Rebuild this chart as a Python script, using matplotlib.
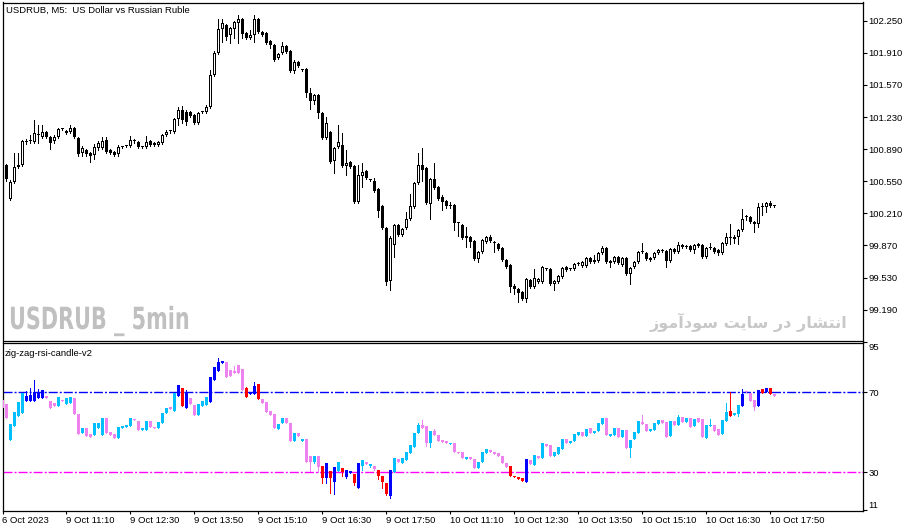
import matplotlib
matplotlib.use('Agg')
import matplotlib.pyplot as plt
import matplotlib.patheffects as pe
from matplotlib.transforms import Affine2D
import numpy as np

plt.rcParams['font.family'] = ['Liberation Sans', 'DejaVu Sans']

W, H = 915, 532

# ---- USDRUB M5 candles ----
opens = [
    100.723, 100.723, 100.363, 100.543, 100.701, 100.723, 100.961, 100.972, 100.966, 101.045,
    101.019, 101.072, 101.019, 100.977, 101.019, 101.104, 101.083, 101.072, 101.114, 101.009,
    100.850, 100.881, 100.850, 100.829, 100.903, 100.903, 100.987, 100.881, 100.860, 100.839,
    100.908, 100.919, 100.924, 100.977, 100.966, 100.913, 100.913, 100.977, 100.956, 100.934,
    100.956, 101.040, 101.078, 101.072, 101.210, 101.305, 101.284, 101.284, 101.252, 101.167,
    101.279, 101.284, 101.337, 101.676, 101.909, 102.163, 102.205, 102.099, 102.163, 102.226,
    102.269, 102.121, 102.068, 102.099, 102.269, 102.131, 102.121, 102.036, 101.993, 101.856,
    101.909, 101.983, 101.930, 101.718, 101.813, 101.734, 101.739, 101.485, 101.400, 101.464,
    101.273, 101.009, 101.072, 100.765, 100.913, 100.934, 100.712, 100.754, 100.712, 100.331,
    100.606, 100.659, 100.569, 100.553, 100.469, 100.288, 100.055, 99.494, 99.875, 100.087,
    99.981, 100.055, 100.151, 100.278, 100.532, 100.723, 100.691, 100.310, 100.574, 100.490,
    100.384, 100.341, 100.293, 100.299, 100.113, 100.087, 99.950, 99.960, 99.918, 99.727,
    99.801, 99.907, 99.960, 99.907, 99.886, 99.844, 99.717, 99.664, 99.441, 99.409,
    99.378, 99.304, 99.505, 99.431, 99.484, 99.484, 99.616, 99.621, 99.462, 99.484,
    99.537, 99.642, 99.616, 99.621, 99.685, 99.653, 99.653, 99.738, 99.695, 99.706,
    99.791, 99.844, 99.706, 99.695, 99.748, 99.664, 99.738, 99.568, 99.642, 99.695,
    99.796, 99.791, 99.738, 99.738, 99.791, 99.823, 99.812, 99.706, 99.833, 99.801,
    99.875, 99.854, 99.865, 99.823, 99.865, 99.875, 99.748, 99.839, 99.844, 99.823,
    99.791, 99.886, 99.960, 99.960, 99.960, 100.034, 100.167, 100.172, 100.119, 100.098,
    100.278, 100.278, 100.320, 100.293,
]
closes = [
    100.564, 100.574, 100.543, 100.701, 100.723, 100.977, 100.972, 100.977, 101.062, 101.040,
    101.072, 101.019, 100.956, 101.019, 101.104, 101.099, 101.062, 101.114, 101.019, 100.839,
    100.903, 100.839, 100.818, 100.913, 100.956, 100.977, 100.860, 100.850, 100.829, 100.913,
    100.913, 100.924, 100.987, 100.972, 100.913, 100.908, 100.966, 100.934, 100.934, 100.966,
    101.040, 101.072, 101.083, 101.210, 101.305, 101.199, 101.178, 101.242, 101.167, 101.273,
    101.284, 101.337, 101.676, 101.909, 102.163, 102.226, 102.078, 102.173, 102.237, 102.269,
    102.110, 102.068, 102.099, 102.269, 102.131, 102.099, 102.015, 101.993, 101.835, 101.898,
    101.983, 101.919, 101.718, 101.813, 101.771, 101.724, 101.485, 101.400, 101.464, 101.273,
    101.009, 101.167, 100.754, 100.903, 100.966, 100.712, 100.744, 100.701, 100.331, 100.617,
    100.649, 100.585, 100.564, 100.447, 100.236, 100.055, 99.484, 99.950, 100.087, 99.981,
    100.045, 100.151, 100.288, 100.532, 100.723, 100.670, 100.320, 100.574, 100.479, 100.363,
    100.331, 100.288, 100.288, 100.108, 100.103, 99.950, 99.971, 99.907, 99.727, 99.801,
    99.928, 99.960, 99.918, 99.897, 99.833, 99.717, 99.642, 99.431, 99.409, 99.367,
    99.304, 99.515, 99.431, 99.526, 99.515, 99.642, 99.621, 99.462, 99.494, 99.547,
    99.632, 99.611, 99.621, 99.674, 99.674, 99.695, 99.738, 99.695, 99.717, 99.791,
    99.844, 99.695, 99.685, 99.748, 99.685, 99.738, 99.568, 99.632, 99.695, 99.801,
    99.801, 99.727, 99.717, 99.791, 99.823, 99.812, 99.706, 99.833, 99.801, 99.875,
    99.854, 99.865, 99.823, 99.875, 99.886, 99.748, 99.844, 99.844, 99.801, 99.791,
    99.897, 99.960, 99.950, 99.939, 100.034, 100.151, 100.172, 100.119, 100.098, 100.278,
    100.288, 100.320, 100.288, 100.288,
]
highs = [
    100.754, 100.733, 100.564, 100.850, 100.850, 100.987, 100.998, 101.040, 101.199, 101.146,
    101.146, 101.083, 101.030, 101.040, 101.114, 101.114, 101.093, 101.146, 101.125, 101.019,
    100.924, 100.892, 100.860, 100.945, 100.977, 101.019, 101.019, 100.892, 100.870, 100.934,
    100.924, 100.934, 101.030, 100.998, 100.977, 100.924, 101.030, 100.987, 100.966, 100.977,
    101.051, 101.093, 101.093, 101.220, 101.337, 101.347, 101.305, 101.295, 101.263, 101.284,
    101.295, 101.358, 101.729, 101.930, 102.269, 102.269, 102.215, 102.184, 102.247, 102.311,
    102.279, 102.131, 102.152, 102.311, 102.279, 102.142, 102.131, 102.046, 102.004, 101.909,
    102.025, 101.993, 101.940, 101.835, 101.824, 101.739, 101.750, 101.538, 101.474, 101.474,
    101.284, 101.231, 101.083, 100.913, 101.146, 101.062, 100.881, 100.765, 100.723, 100.723,
    100.744, 100.670, 100.574, 100.585, 100.479, 100.299, 100.066, 99.971, 100.098, 100.098,
    100.055, 100.225, 100.416, 100.543, 100.850, 100.903, 100.701, 100.585, 100.744, 100.500,
    100.405, 100.352, 100.331, 100.310, 100.119, 100.098, 100.066, 99.971, 99.928, 99.812,
    99.939, 99.971, 99.981, 99.918, 99.897, 99.854, 99.727, 99.674, 99.462, 99.420,
    99.388, 99.526, 99.515, 99.621, 99.526, 99.653, 99.632, 99.632, 99.505, 99.558,
    99.642, 99.653, 99.632, 99.685, 99.695, 99.706, 99.748, 99.748, 99.770, 99.801,
    99.865, 99.854, 99.717, 99.759, 99.759, 99.748, 99.748, 99.642, 99.706, 99.812,
    99.897, 99.801, 99.748, 99.801, 99.833, 99.833, 99.823, 99.844, 99.844, 99.907,
    99.886, 99.875, 99.875, 99.886, 99.897, 99.886, 99.854, 99.897, 99.854, 99.833,
    99.907, 100.003, 100.098, 99.981, 100.045, 100.257, 100.193, 100.182, 100.130, 100.320,
    100.320, 100.331, 100.341, 100.299,
]
lows = [
    100.553, 100.553, 100.352, 100.532, 100.691, 100.712, 100.945, 100.956, 100.956, 100.956,
    101.009, 101.009, 100.892, 100.956, 101.009, 101.093, 101.051, 101.062, 101.009, 100.818,
    100.818, 100.818, 100.754, 100.786, 100.881, 100.892, 100.850, 100.839, 100.818, 100.818,
    100.903, 100.913, 100.913, 100.956, 100.903, 100.903, 100.903, 100.924, 100.924, 100.924,
    100.945, 101.030, 101.062, 101.062, 101.146, 101.167, 101.146, 101.231, 101.157, 101.157,
    101.273, 101.273, 101.326, 101.665, 101.898, 102.025, 102.046, 102.015, 102.068, 102.015,
    102.068, 102.057, 102.057, 102.025, 102.121, 102.089, 102.004, 101.962, 101.824, 101.845,
    101.898, 101.909, 101.708, 101.697, 101.760, 101.718, 101.443, 101.316, 101.369, 101.220,
    100.998, 100.998, 100.744, 100.638, 100.903, 100.701, 100.617, 100.691, 100.320, 100.320,
    100.490, 100.574, 100.553, 100.437, 100.172, 100.045, 99.452, 99.399, 99.748, 99.971,
    99.971, 100.045, 100.140, 100.267, 100.522, 100.553, 100.310, 100.151, 100.469, 100.352,
    100.246, 100.267, 100.267, 100.034, 99.971, 99.939, 99.854, 99.854, 99.717, 99.695,
    99.791, 99.897, 99.907, 99.801, 99.823, 99.706, 99.632, 99.378, 99.357, 99.272,
    99.293, 99.272, 99.420, 99.420, 99.473, 99.473, 99.611, 99.452, 99.399, 99.473,
    99.526, 99.600, 99.605, 99.611, 99.664, 99.642, 99.642, 99.685, 99.685, 99.695,
    99.780, 99.685, 99.642, 99.685, 99.674, 99.653, 99.558, 99.462, 99.632, 99.685,
    99.791, 99.717, 99.706, 99.727, 99.780, 99.801, 99.642, 99.695, 99.791, 99.791,
    99.844, 99.844, 99.812, 99.791, 99.854, 99.738, 99.738, 99.833, 99.791, 99.770,
    99.780, 99.875, 99.886, 99.897, 99.886, 100.024, 100.140, 100.108, 100.013, 100.066,
    100.193, 100.225, 100.278, 100.278,
]

# ---- zig-zag-rsi-candle-v2 (RSI candles) ----
rsi_open = [
    66, 64, 46, 53, 58, 59.5, 65.8, 65.8, 65.8, 67,
    67, 68.2, 65.8, 64.8, 63.3, 66.2, 64.2, 64.8, 67, 59.2,
    49.5, 52, 49, 48.7, 52, 48.7, 57, 50.3, 49.2, 47.3,
    52.3, 52.8, 53.2, 56.7, 55.7, 51.2, 51.2, 55.7, 52.8, 52,
    54.8, 59.5, 62.5, 60.8, 68.2, 72, 62.3, 67, 63.7, 58.7,
    63.2, 63.7, 65.3, 76.2, 80.8, 84.5, 85.3, 81.2, 80.8, 83.7,
    81.5, 72, 69, 69.2, 74.2, 66.5, 65.3, 60.8, 59.2, 51.5,
    54.5, 57.3, 54.8, 45.8, 49.5, 45.8, 46.7, 38.2, 35.3, 38.2,
    33.2, 27, 30.7, 25, 30.7, 32.2, 27.8, 29.5, 29.2, 22.3,
    33.2, 35.2, 33.2, 33.3, 31.2, 28.3, 24.8, 18.2, 30.3, 36.7,
    34.8, 36.2, 39.5, 42.8, 49.5, 53.7, 53.2, 44.5, 50.8, 48.7,
    46.2, 45.5, 44.3, 44.7, 40.3, 40, 36.8, 37.8, 36.5, 32.2,
    35.2, 39.5, 41.2, 40.3, 39.5, 38.2, 34.8, 33.2, 28.2, 27.7,
    27.2, 25.3, 36.2, 33.7, 38.2, 37.3, 44.2, 43.5, 38.2, 39.3,
    41.8, 46.7, 44.7, 45.7, 48.7, 50, 48.2, 52, 49.8, 50.8,
    54.2, 57, 48.3, 48.7, 52, 47.8, 51.2, 42, 46.7, 49.5,
    55.3, 54.2, 50.7, 51.2, 54.2, 56.2, 55.3, 48.3, 55.8, 53.7,
    57.5, 55, 57, 53.2, 57, 56.7, 47.3, 53.2, 53.7, 51.5,
    49.2, 55.8, 60.7, 58.7, 59.2, 63.3, 70.8, 69.8, 66.2, 63.3,
    71.5, 70, 72, 69.2,
]
rsi_close = [
    62, 57, 54, 60, 65, 69.5, 68.2, 68.7, 70.3, 69.8,
    71.2, 67.2, 62, 63.2, 67.8, 65.5, 67, 67.8, 59.2, 49.2,
    52, 48.2, 47.8, 54.5, 54.5, 57, 49.8, 48.7, 47.3, 52.5,
    53.2, 53.7, 57, 56.2, 51.2, 52, 55.8, 52.5, 52, 55.3,
    59.8, 62, 61.5, 69.5, 73.7, 63.3, 70.3, 64.2, 58.7, 64.2,
    65.8, 67.5, 77.5, 82.8, 85.3, 85.8, 77.5, 78.2, 79.8, 79.8,
    71.2, 67.8, 70.3, 73.2, 66.5, 64.5, 60.3, 58.7, 52, 54.2,
    57.3, 54.5, 45.8, 49.5, 48.2, 46.8, 35.3, 35.3, 38.2, 32.8,
    27.3, 34.5, 27, 32.5, 35.2, 30.3, 31, 30.7, 24.5, 34.8,
    36.2, 34.2, 34.2, 31.8, 28.3, 25.3, 19.2, 31.2, 37.3, 35.3,
    37.3, 40.2, 43.5, 49.5, 53.7, 52.3, 44.5, 50.8, 48.7, 45.8,
    45.3, 44.5, 44.8, 40.3, 39.8, 37, 37.8, 36.5, 32.3, 35.3,
    40.3, 41.7, 40.3, 39.2, 38.2, 34.8, 32.8, 28.2, 27.5, 26.5,
    25.7, 36.7, 34.2, 38.7, 37.3, 44.5, 43.2, 38.2, 40.2, 42.7,
    46.7, 44.8, 45.7, 49, 50, 48, 51.5, 49.8, 50.8, 54.5,
    57.3, 48.7, 49.2, 52, 47.8, 51.2, 42, 46.2, 50, 55.7,
    54.2, 50.8, 51.5, 54.8, 56.2, 54.8, 47.5, 55.7, 53.7, 57.8,
    55, 57, 52.8, 56.7, 55.3, 47.5, 53.7, 53.7, 50.8, 48.7,
    56.2, 60.3, 58.2, 59.8, 63.7, 69.2, 70.1, 65.8, 62.8, 71.2,
    69.5, 72, 69, 68.3,
]
# visible RSI wick tips (bar index -> value)
rsi_wick_hi = {6: 70.5, 7: 72, 8: 76.2, 9: 71.5, 46: 71.2, 54: 87, 58: 83, 61: 72.8,
               63: 75.3, 104: 54.8, 105: 56.2, 108: 51.5, 160: 58.7, 169: 58.8,
               177: 56.7, 181: 64.8, 182: 70.3, 185: 71.7}
rsi_wick_lo = {77: 30.7, 78: 34.5, 79: 30.3, 80: 24.8, 81: 24.5, 82: 19.8, 83: 19,
               84: 30.5, 85: 28.2, 86: 27, 88: 23.8, 90: 31.2, 92: 32.7, 93: 31.3,
               94: 26.5, 95: 22.3, 96: 18.5, 97: 17.3, 106: 43.2, 107: 42.8,
               157: 37.8, 184: 58.2, 188: 61.2}
rsi_levels = [70, 30]

price_ticks = [102.25, 101.91, 101.57, 101.23, 100.89, 100.55, 100.21, 99.87, 99.53, 99.19]
time_ticks = [0, 16, 32, 48, 64, 80, 96, 112, 128, 144, 160, 176, 192]
time_labels = ['6 Oct 2023', '9 Oct 11:10', '9 Oct 12:30', '9 Oct 13:50', '9 Oct 15:10',
               '9 Oct 16:30', '9 Oct 17:50', '10 Oct 11:10', '10 Oct 12:30',
               '10 Oct 13:50', '10 Oct 15:10', '10 Oct 16:30', '10 Oct 17:50']

# 'انتشار در سایت سودآموز' in Arabic presentation forms, logical order
persian_shaped = ('\uFE8D\uFEE7\uFE98\uFEB8\uFE8E\uFEAD \uFEA9\uFEAD '
                  '\uFEB3\uFE8E\uFEF3\uFE96 \uFEB3\uFEEE\uFEA9\uFE81\uFEE3\uFEEE\uFEAF')

SKY, VIOLET, BLUE, RED = '#00bfff', '#ee82ee', '#0000ff', '#ff0000'


def fx(px):
    return px / W


def fy(py):
    return 1 - py / H


class Squeeze(pe.AbstractPathEffect):
    # squeeze text horizontally around a fixed pixel x (narrow watermark font)
    def __init__(self, sx, x0):
        super().__init__()
        self.sx = sx
        self.x0 = x0

    def draw_path(self, renderer, gc, tpath, affine, rgbFace=None):
        aff = affine + Affine2D().translate(-self.x0, 0).scale(self.sx, 1).translate(self.x0, 0)
        renderer.draw_path(gc, tpath, aff, rgbFace)


fig = plt.figure(figsize=(W / 100, H / 100), dpi=100)
fig.patch.set_facecolor('white')

ax = fig.add_axes([fx(2.5), fy(340.5), (862.5 - 2.5) / W, (340.5 - 2.5) / H])
ax2 = fig.add_axes([fx(2.5), fy(511), (862.5 - 2.5) / W, (511 - 342.5) / H])

PMIN, PMAX = 98.8636, 102.4435
px_price = (PMAX - PMIN) / 338.0   # price per pixel

o = np.array(opens)
c = np.array(closes)
hi = np.array(highs)
lo = np.array(lows)
x = np.arange(len(o))

# candles: wick, black outer body, white core for up bars
ax.vlines(x, lo, hi, color='black', lw=0.72, antialiased=False, zorder=2)
up = c >= o
body_lo = np.minimum(o, c)
body_h = np.maximum(np.abs(c - o), px_price)
ax.bar(x, body_h, bottom=body_lo, width=0.75, color='black', linewidth=0,
       antialiased=False, zorder=3)
core = up & (body_h > 2.2 * px_price)
ax.bar(x[core], body_h[core] - 2 * px_price, bottom=body_lo[core] + px_price, width=0.25,
       color='white', linewidth=0, antialiased=False, zorder=4)

ax.set_xlim(0.05, 215.05)
ax.set_ylim(PMIN, PMAX)
ax.yaxis.tick_right()
ax.set_yticks(price_ticks, labels=['%.3f' % p for p in price_ticks])
ax.set_xticks([])
ax.tick_params(axis='y', direction='out', length=3, width=0.8, pad=1.5,
               labelsize=6.8, colors='black')

# RSI candles
ro = np.array(rsi_open, dtype=float)
rc = np.array(rsi_close, dtype=float)
rh = np.maximum(ro, rc)
rl = np.minimum(ro, rc)
for k, v in rsi_wick_hi.items():
    rh[k] = max(rh[k], v)
for k, v in rsi_wick_lo.items():
    rl[k] = min(rl[k], v)

cols = []
for k in range(len(ro)):
    if rc[k] >= ro[k]:
        cols.append(BLUE if (rh[k] > 70 or rl[k] < 30) else SKY)
    else:
        cols.append(RED if (rl[k] < 30 or (rh[k] > 70 and rl[k] < 70)) else VIOLET)

ax2.axhline(rsi_levels[0], color='#0000ff', lw=1.0, dashes=(6.5, 1.45, 1.45, 1.45), zorder=1)
ax2.axhline(rsi_levels[1], color='#ff00ff', lw=1.0, dashes=(6.5, 1.45, 1.45, 1.45), zorder=1)

ax2.vlines(x, rl, rh, colors=cols, lw=0.72, antialiased=False, zorder=2)
ax2.bar(x, np.maximum(np.abs(rc - ro), 0.5), bottom=np.minimum(ro, rc), width=0.72,
        color=cols, linewidth=0, antialiased=False, zorder=3)

ax2.set_xlim(0.05, 215.05)
ax2.set_ylim(10.65, 94.9)
ax2.yaxis.tick_right()
ax2.set_yticks([94.9, 70, 30, 11], labels=['95', '70', '30', '11'])
ylbls = ax2.get_yticklabels()
ylbls[0].set_verticalalignment('top')
ylbls[-1].set_verticalalignment('bottom')
ax2.tick_params(axis='y', direction='out', length=3, width=0.8, pad=1.5,
                labelsize=6.8, colors='black')
ax2.set_xticks(time_ticks, labels=time_labels, ha='left')
ax2.tick_params(axis='x', direction='out', length=2.5, width=0.8, pad=1.2,
                labelsize=6.8, colors='black')

for a in (ax, ax2):
    for s in a.spines.values():
        s.set_color('black')
        s.set_linewidth(0.9)

# texts
fig.text(fx(6), fy(10), 'USDRUB, M5:  US Dollar vs Russian Ruble', fontsize=6.8,
         va='center', ha='left')
fig.text(fx(5), fy(353), 'zig-zag-rsi-candle-v2', fontsize=6.8, va='center', ha='left')
fig.text(fx(9), fy(321), 'USDRUB _ 5min', fontsize=22, fontweight='bold',
         family=['DejaVu Sans'], color='#c0c0c0', va='center', ha='left',
         path_effects=[Squeeze(0.68, 9)])
fig.text(fx(847), fy(322), persian_shaped[::-1], fontsize=11.5, fontweight='bold',
         family=['DejaVu Sans'], color='#c8c8c8', va='center', ha='right')

fig.savefig('out.png', dpi=100, facecolor='white')
